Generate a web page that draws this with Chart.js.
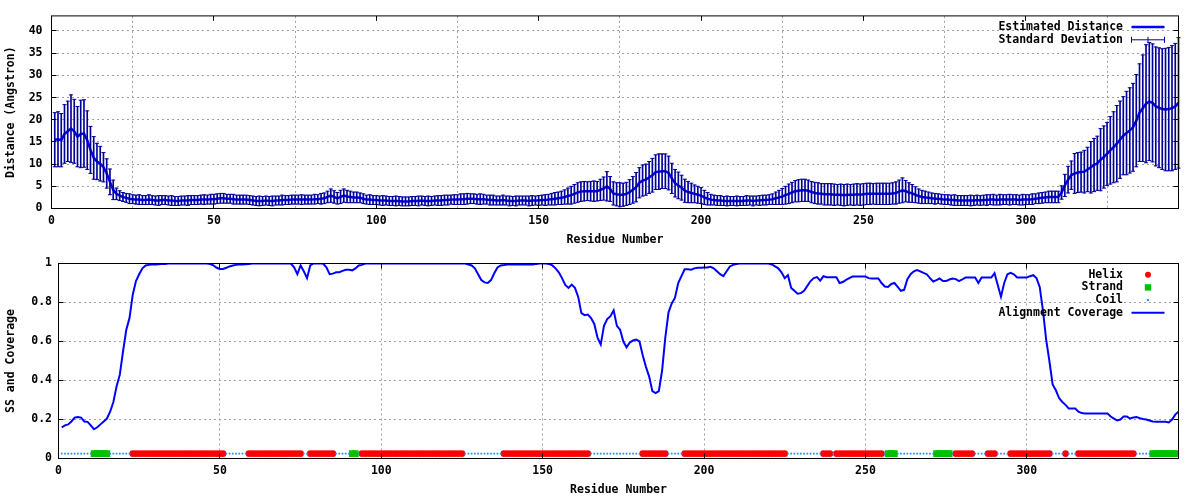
<!DOCTYPE html>
<html>
<head>
<meta charset="utf-8">
<title>Estimated distance and SS coverage</title>
<script src="https://cdn.jsdelivr.net/npm/chart.js@4.4.1/dist/chart.umd.min.js"></script>
<style>
  body { margin: 0; background: #fff; }
  canvas { display: block; }
</style>
</head>
<body>
<canvas id="distChart" width="1200" height="250"></canvas>
<canvas id="ssChart" width="1200" height="250"></canvas>
<script>
// residue 1..347, one value per residue
var distMean = [
  15.5, 15.6, 15.4, 16.8, 17.4, 18.0, 17.4, 16.2, 16.8, 16.9,
  15.4, 13.2, 11.4, 10.6, 10.1, 9.3, 7.9, 6.0, 4.2, 3.3,
  2.9, 2.6, 2.4, 2.2, 2.1, 2.0, 2.0, 1.9, 1.9, 2.0,
  1.9, 1.8, 1.8, 1.9, 1.9, 1.8, 1.8, 1.7, 1.7, 1.8,
  1.8, 1.8, 1.9, 1.9, 1.9, 2.0, 2.0, 2.0, 2.1, 2.1,
  2.2, 2.3, 2.3, 2.2, 2.2, 2.1, 2.0, 2.0, 2.0, 2.0,
  1.9, 1.8, 1.7, 1.7, 1.7, 1.8, 1.7, 1.7, 1.8, 1.8,
  1.9, 1.9, 1.9, 2.0, 2.0, 2.0, 2.0, 2.0, 2.0, 2.0,
  2.1, 2.1, 2.2, 2.3, 2.6, 2.9, 2.6, 2.3, 2.6, 2.9,
  2.7, 2.6, 2.5, 2.5, 2.4, 2.2, 2.0, 2.0, 1.9, 1.9,
  1.8, 1.8, 1.8, 1.7, 1.7, 1.7, 1.7, 1.6, 1.6, 1.6,
  1.7, 1.7, 1.7, 1.8, 1.7, 1.7, 1.7, 1.8, 1.8, 1.8,
  1.9, 1.9, 2.0, 2.0, 2.0, 2.1, 2.1, 2.2, 2.2, 2.2,
  2.1, 2.1, 2.1, 2.0, 1.9, 1.9, 1.8, 1.8, 1.9, 1.8,
  1.7, 1.7, 1.7, 1.8, 1.8, 1.8, 1.7, 1.8, 1.8, 1.8,
  1.9, 1.9, 2.0, 2.1, 2.2, 2.3, 2.4, 2.6, 2.8, 3.0,
  3.3, 3.6, 3.8, 3.9, 3.9, 3.9, 3.9, 3.9, 4.2, 4.5,
  5.0, 4.4, 3.4, 3.2, 3.1, 3.1, 3.3, 3.7, 4.2, 4.8,
  5.8, 6.3, 6.5, 7.0, 7.5, 8.2, 8.3, 8.4, 8.4, 8.0,
  6.8, 5.7, 5.2, 4.7, 4.0, 3.7, 3.5, 3.3, 3.1, 2.9,
  2.5, 2.2, 2.0, 1.9, 1.8, 1.8, 1.7, 1.7, 1.7, 1.7,
  1.7, 1.7, 1.7, 1.8, 1.8, 1.7, 1.8, 1.8, 1.9, 1.9,
  2.0, 2.1, 2.3, 2.5, 2.7, 3.0, 3.3, 3.6, 3.9, 4.0,
  4.1, 4.1, 4.0, 3.7, 3.5, 3.4, 3.3, 3.2, 3.2, 3.2,
  3.1, 3.1, 3.1, 3.0, 3.1, 3.1, 3.1, 3.2, 3.1, 3.2,
  3.3, 3.3, 3.3, 3.3, 3.3, 3.3, 3.3, 3.3, 3.4, 3.5,
  3.8, 4.1, 3.9, 3.6, 3.4, 3.1, 2.8, 2.6, 2.5, 2.4,
  2.3, 2.2, 2.2, 2.1, 2.0, 2.0, 1.9, 1.9, 1.8, 1.8,
  1.8, 1.8, 1.8, 1.8, 1.9, 1.8, 1.9, 1.9, 2.0, 2.0,
  1.9, 2.0, 2.0, 2.0, 2.0, 2.0, 2.0, 1.9, 2.0, 2.0,
  2.0, 2.1, 2.2, 2.3, 2.4, 2.5, 2.6, 2.6, 2.6, 2.6,
  3.6, 5.2, 6.5, 7.5, 7.9, 8.1, 8.2, 8.3, 8.8, 9.3,
  9.8, 10.2, 11.0, 11.6, 12.3, 13.1, 13.8, 14.6, 15.5, 16.4,
  17.0, 17.6, 18.3, 19.8, 21.6, 22.6, 23.6, 24.1, 23.8, 23.0,
  22.7, 22.4, 22.3, 22.4, 22.6, 23.0, 23.8
];

var distStd = [
  6.1, 6.2, 6.0, 6.6, 6.8, 7.6, 7.2, 6.8, 7.6, 7.6,
  6.6, 5.3, 4.8, 4.1, 3.9, 3.3, 3.3, 2.9, 2.2, 1.3,
  1.1, 1.0, 1.0, 1.1, 1.0, 1.0, 1.1, 1.0, 1.0, 1.1,
  1.0, 1.0, 1.1, 1.0, 1.0, 1.0, 1.1, 1.0, 1.0, 1.0,
  1.0, 1.1, 1.0, 1.0, 1.0, 1.0, 1.1, 1.0, 1.1, 1.1,
  1.1, 1.1, 1.1, 1.0, 1.0, 1.1, 1.0, 1.0, 1.0, 1.0,
  1.0, 1.0, 1.0, 1.1, 1.0, 1.0, 1.0, 1.1, 1.0, 1.0,
  1.1, 1.0, 1.0, 1.0, 1.0, 1.0, 1.1, 1.0, 1.0, 1.0,
  1.1, 1.0, 1.2, 1.2, 1.3, 1.5, 1.4, 1.3, 1.5, 1.5,
  1.4, 1.3, 1.2, 1.2, 1.1, 1.1, 1.0, 1.1, 1.0, 1.0,
  1.0, 1.1, 1.0, 1.0, 1.0, 1.1, 1.0, 1.0, 1.0, 1.0,
  1.0, 1.0, 1.1, 1.0, 1.0, 1.1, 1.0, 1.0, 1.1, 1.1,
  1.1, 1.1, 1.0, 1.1, 1.1, 1.2, 1.2, 1.2, 1.1, 1.1,
  1.1, 1.2, 1.1, 1.0, 1.1, 1.1, 1.0, 1.0, 1.1, 1.0,
  1.1, 1.0, 1.1, 1.0, 1.0, 1.0, 1.1, 1.1, 1.0, 1.1,
  1.1, 1.2, 1.2, 1.3, 1.4, 1.4, 1.5, 1.6, 1.8, 2.0,
  2.1, 2.2, 2.2, 2.2, 2.1, 2.2, 2.3, 2.2, 2.4, 2.6,
  3.3, 2.8, 2.6, 2.6, 2.7, 2.6, 2.6, 2.8, 3.0, 3.3,
  3.4, 3.5, 3.5, 3.6, 3.8, 3.9, 4.0, 3.9, 3.9, 3.8,
  3.4, 3.1, 3.0, 2.8, 2.6, 2.4, 2.2, 2.0, 1.9, 1.8,
  1.6, 1.4, 1.2, 1.1, 1.1, 1.1, 1.0, 1.1, 1.0, 1.0,
  1.1, 1.0, 1.0, 1.1, 1.0, 1.1, 1.0, 1.1, 1.1, 1.1,
  1.1, 1.2, 1.4, 1.6, 1.8, 2.0, 2.2, 2.3, 2.4, 2.5,
  2.5, 2.5, 2.4, 2.4, 2.4, 2.4, 2.3, 2.4, 2.4, 2.4,
  2.4, 2.3, 2.4, 2.4, 2.4, 2.3, 2.4, 2.4, 2.4, 2.4,
  2.4, 2.4, 2.3, 2.4, 2.4, 2.4, 2.4, 2.4, 2.4, 2.5,
  2.6, 2.8, 2.4, 2.2, 2.0, 1.8, 1.6, 1.5, 1.4, 1.3,
  1.2, 1.2, 1.1, 1.1, 1.1, 1.1, 1.1, 1.2, 1.1, 1.1,
  1.1, 1.1, 1.2, 1.1, 1.1, 1.1, 1.1, 1.2, 1.1, 1.2,
  1.1, 1.2, 1.1, 1.1, 1.2, 1.1, 1.1, 1.1, 1.2, 1.1,
  1.1, 1.2, 1.1, 1.2, 1.2, 1.2, 1.3, 1.3, 1.3, 1.3,
  1.5, 2.5, 3.0, 3.2, 4.5, 4.5, 4.5, 4.8, 5.0, 5.8,
  6.0, 6.1, 7.0, 7.0, 7.1, 7.6, 8.0, 8.6, 8.7, 8.8,
  9.4, 9.6, 9.9, 10.4, 11.0, 12.0, 13.3, 13.3, 13.3, 13.4,
  13.5, 13.6, 13.8, 13.9, 14.1, 14.2, 14.7
];

var coverage = [
  0.16, 0.17, 0.175, 0.19, 0.21, 0.213, 0.21, 0.19, 0.188, 0.17,
  0.15, 0.16, 0.175, 0.19, 0.205, 0.24, 0.29, 0.37, 0.43, 0.55,
  0.66, 0.72, 0.84, 0.91, 0.945, 0.975, 0.99, 0.993, 0.995, 0.995,
  0.996, 0.997, 0.998, 1, 1, 1, 1, 1, 1, 1,
  1, 1, 1, 1, 1, 1, 0.997, 0.99, 0.978, 0.972,
  0.972, 0.978, 0.985, 0.99, 0.993, 0.995, 0.995, 0.996, 0.997, 1,
  1, 1, 1, 1, 1, 1, 1, 1, 1, 1,
  1, 1, 0.98, 0.945, 0.99, 0.96, 0.925, 0.99, 1, 1,
  1, 1, 0.98, 0.945, 0.948, 0.955, 0.955, 0.962, 0.968, 0.968,
  0.965, 0.975, 0.99, 0.993, 1, 1, 1, 1, 1, 1,
  1, 1, 1, 1, 1, 1, 1, 1, 1, 1,
  1, 1, 1, 1, 1, 1, 1, 1, 1, 1,
  1, 1, 1, 1, 1, 1, 0.995, 0.99, 0.975, 0.945,
  0.915, 0.903, 0.9, 0.915, 0.95, 0.98, 0.99, 0.992, 0.995, 0.995,
  0.995, 0.995, 0.995, 0.995, 0.995, 0.995, 0.995, 0.998, 1, 1,
  1, 0.998, 0.99, 0.975, 0.955, 0.925, 0.89, 0.875, 0.892, 0.875,
  0.83, 0.745, 0.735, 0.738, 0.72, 0.69, 0.62, 0.585, 0.68, 0.715,
  0.73, 0.76, 0.68, 0.66, 0.6, 0.57, 0.595, 0.605, 0.61, 0.6,
  0.53, 0.47, 0.42, 0.345, 0.335, 0.345, 0.45, 0.62, 0.75, 0.795,
  0.825, 0.9, 0.935, 0.97, 0.97, 0.968, 0.975, 0.978, 0.978, 0.98,
  0.98, 0.983, 0.975, 0.96, 0.945, 0.935, 0.96, 0.985, 0.993, 0.997,
  1, 1, 1, 1, 1, 1, 1, 1, 1, 1,
  0.995, 0.985, 0.975, 0.955, 0.925, 0.94, 0.875, 0.86, 0.845, 0.848,
  0.86, 0.885, 0.91, 0.925, 0.93, 0.912, 0.935, 0.93, 0.93, 0.93,
  0.93, 0.9, 0.905, 0.916, 0.925, 0.933, 0.933, 0.933, 0.933, 0.933,
  0.925, 0.923, 0.923, 0.923, 0.9, 0.882, 0.88, 0.895, 0.9, 0.88,
  0.86, 0.865, 0.92, 0.945, 0.96, 0.966, 0.96, 0.952, 0.945, 0.925,
  0.908, 0.915, 0.923, 0.91, 0.91, 0.918, 0.923, 0.92, 0.91, 0.918,
  0.928, 0.928, 0.928, 0.928, 0.9, 0.928, 0.928, 0.928, 0.928, 0.95,
  0.89, 0.83, 0.9, 0.945, 0.952, 0.945, 0.928, 0.928, 0.928, 0.928,
  0.935, 0.94, 0.925, 0.88, 0.76, 0.61, 0.5, 0.38, 0.35, 0.31,
  0.29, 0.275, 0.256, 0.256, 0.256, 0.24, 0.233, 0.231, 0.231, 0.231,
  0.231, 0.231, 0.231, 0.231, 0.231, 0.215, 0.205, 0.195, 0.2, 0.215,
  0.215, 0.205, 0.21, 0.213, 0.207, 0.203, 0.2, 0.195, 0.19, 0.188,
  0.188, 0.188, 0.188, 0.185, 0.2, 0.225, 0.24
];

// secondary structure, [first, last] residue of each segment
var helixSegments = [[23, 51], [59, 75], [78, 85], [94, 125], [138, 164], [181, 188],
  [194, 225], [237, 239], [241, 255], [278, 283], [288, 290], [295, 307], [312, 312], [316, 333]];
var strandSegments = [[11, 15], [91, 92], [257, 259], [272, 276], [339, 346]];
var ssLevel = 0.025;

var xTicks = [0, 50, 100, 150, 200, 250, 300];
var distTicks = [0, 5, 10, 15, 20, 25, 30, 35, 40];
var covTicks = [0, 0.2, 0.4, 0.6, 0.8, 1];

var FONT = {family: "'DejaVu Sans Mono', monospace", size: 11.5, weight: 'bold'};
var FONT_CSS = "bold 11.5px 'DejaVu Sans Mono', monospace";
var NAVY = '#000099';
var COIL = '#1e8cff';

var residues = distMean.map(function(_, i) { return i + 1; });

function inSegments(r, segs) {
  return segs.some(function(s) { return r >= s[0] && r <= s[1]; });
}

var helixPts = [], strandPts = [], coilPts = [];
residues.forEach(function(r) {
  if (inSegments(r, strandSegments)) strandPts.push({x: r, y: ssLevel});
  else if (inSegments(r, helixSegments)) helixPts.push({x: r, y: ssLevel});
  else coilPts.push({x: r, y: ssLevel});
});

// gnuplot style frame with inward ticks on all four sides
var gnuFrame = {
  id: 'gnuFrame',
  afterDatasetsDraw: function(chart) {
    var ctx = chart.ctx, a = chart.chartArea;
    var xs = chart.scales.x, ys = chart.scales.y;
    ctx.save();
    ctx.strokeStyle = '#000';
    ctx.lineWidth = 1;
    ctx.beginPath();
    xs.ticks.forEach(function(t) {
      var px = Math.round(xs.getPixelForValue(t.value) - 0.5) + 0.5;
      ctx.moveTo(px, a.bottom); ctx.lineTo(px, a.bottom - 5);
      ctx.moveTo(px, a.top); ctx.lineTo(px, a.top + 5);
    });
    ys.ticks.forEach(function(t) {
      var py = Math.round(ys.getPixelForValue(t.value) - 0.5) + 0.5;
      ctx.moveTo(a.left, py); ctx.lineTo(a.left + 5, py);
      ctx.moveTo(a.right, py); ctx.lineTo(a.right - 5, py);
    });
    ctx.stroke();
    ctx.strokeRect(a.left, a.top, a.right - a.left, a.bottom - a.top);
    ctx.restore();
  }
};

// key in the top right corner, text first and sample on its right
var gnuKey = {
  id: 'gnuKey',
  afterDraw: function(chart, args, opts) {
    var ctx = chart.ctx, a = chart.chartArea;
    var x0 = a.right - 47, x1 = a.right - 14, xm = (x0 + x1) / 2;
    ctx.save();
    ctx.font = FONT_CSS;
    ctx.textAlign = 'right';
    ctx.textBaseline = 'middle';
    opts.items.forEach(function(it, i) {
      var y = a.top + 11.2 + i * 12.7;
      ctx.fillStyle = '#000';
      ctx.fillText(it.text, a.right - 55.5, y);
      ctx.strokeStyle = it.color;
      ctx.fillStyle = it.color;
      if (it.kind === 'line') {
        ctx.lineWidth = it.width;
        ctx.beginPath(); ctx.moveTo(x0, y); ctx.lineTo(x1, y); ctx.stroke();
      } else if (it.kind === 'errorbar') {
        ctx.lineWidth = 1;
        ctx.beginPath();
        ctx.moveTo(x0, y); ctx.lineTo(x1, y);
        ctx.moveTo(x0, y - 3); ctx.lineTo(x0, y + 3);
        ctx.moveTo(x1, y - 3); ctx.lineTo(x1, y + 3);
        ctx.moveTo(xm, y - 3); ctx.lineTo(xm, y + 3);
        ctx.stroke();
      } else if (it.kind === 'circle') {
        ctx.beginPath(); ctx.arc(xm, y, it.r, 0, Math.PI * 2); ctx.fill();
      } else if (it.kind === 'square') {
        ctx.fillRect(xm - it.r, y - it.r, it.r * 2, it.r * 2);
      } else {
        ctx.fillRect(xm - 1, y - 1, 2, 2);
      }
    });
    ctx.restore();
  }
};

function xScale() {
  return {
    type: 'linear', min: 0, max: 347, offset: false,
    afterBuildTicks: function(s) { s.ticks = xTicks.map(function(v) { return {value: v}; }); },
    afterFit: function(s) { s.height = 41.5; },
    grid: {color: '#a0a0a0', drawTicks: false},
    border: {display: false, dash: [2, 3]},
    ticks: {color: '#000', font: FONT, padding: 6, maxRotation: 0, autoSkip: false},
    title: {display: true, text: 'Residue Number', color: '#000', font: FONT, padding: {top: 0, bottom: 2.8}}
  };
}

function yScale(max, ticks, width, pad, label) {
  return {
    type: 'linear', min: 0, max: max,
    afterBuildTicks: function(s) { s.ticks = ticks.map(function(v) { return {value: v}; }); },
    afterFit: function(s) { s.width = width; },
    grid: {color: '#a0a0a0', drawTicks: false},
    border: {display: false, dash: [2, 3]},
    ticks: {
      color: '#000', font: FONT, padding: pad,
      callback: function(v) { return String(Number(v.toFixed(2))); }
    },
    title: {display: true, text: label, color: '#000', font: FONT, padding: {top: 4, bottom: 0}}
  };
}

new Chart('distChart', {
  type: 'line',
  data: {
    datasets: [
      {
        type: 'scatter', label: 'upper',
        data: residues.map(function(r, i) { return {x: r, y: distMean[i] + distStd[i]}; }),
        pointStyle: 'line', pointRadius: 2, pointBorderColor: NAVY, pointBorderWidth: 1, clip: false
      },
      {
        type: 'scatter', label: 'lower',
        data: residues.map(function(r, i) { return {x: r, y: distMean[i] - distStd[i]}; }),
        pointStyle: 'line', pointRadius: 2, pointBorderColor: NAVY, pointBorderWidth: 1, clip: false
      },
      {
        type: 'bar', label: 'Standard Deviation',
        data: residues.map(function(r, i) {
          return {x: r, y: [distMean[i] - distStd[i], distMean[i] + distStd[i]]};
        }),
        backgroundColor: NAVY, borderWidth: 0, barThickness: 1, clip: false
      },
      {
        type: 'line', label: 'Estimated Distance',
        data: residues.map(function(r, i) { return {x: r, y: distMean[i]}; }),
        borderColor: '#0000ff', borderWidth: 2.5, pointRadius: 0, tension: 0, fill: false
      }
    ]
  },
  options: {
    responsive: false, animation: false, events: [],
    layout: {padding: {top: 14.5, right: 21.5, bottom: 0, left: 0}},
    plugins: {
      legend: {display: false},
      tooltip: {enabled: false},
      gnuKey: {items: [
        {text: 'Estimated Distance', kind: 'line', color: '#0000ff', width: 2.5},
        {text: 'Standard Deviation', kind: 'errorbar', color: NAVY}
      ]}
    },
    scales: {
      x: xScale(),
      y: yScale(43.4, distTicks, 51.5, 9, 'Distance (Angstron)')
    }
  },
  plugins: [gnuFrame, gnuKey]
});

new Chart('ssChart', {
  type: 'line',
  data: {
    datasets: [
      {
        type: 'line', label: 'Alignment Coverage',
        data: residues.map(function(r, i) { return {x: r, y: coverage[i]}; }),
        borderColor: '#0000ff', borderWidth: 2, pointRadius: 0, tension: 0, fill: false
      },
      {
        type: 'scatter', label: 'Coil', data: coilPts,
        pointStyle: 'rect', pointRadius: 1.2, pointBorderWidth: 0, pointBackgroundColor: COIL
      },
      {
        type: 'scatter', label: 'Strand', data: strandPts,
        pointStyle: 'rect', pointRadius: 4.6, pointBorderWidth: 0, pointBackgroundColor: '#00c000'
      },
      {
        type: 'scatter', label: 'Helix', data: helixPts,
        pointStyle: 'circle', pointRadius: 3.3, pointBorderWidth: 0, pointBackgroundColor: '#ff0000'
      }
    ]
  },
  options: {
    responsive: false, animation: false, events: [],
    layout: {padding: {top: 13.5, right: 21.5, bottom: 0, left: 0}},
    plugins: {
      legend: {display: false},
      tooltip: {enabled: false},
      gnuKey: {items: [
        {text: 'Helix', kind: 'circle', color: '#ff0000', r: 3},
        {text: 'Strand', kind: 'square', color: '#00c000', r: 3.2},
        {text: 'Coil', kind: 'dot', color: COIL},
        {text: 'Alignment Coverage', kind: 'line', color: '#0000ff', width: 2}
      ]}
    },
    scales: {
      x: xScale(),
      y: yScale(1, covTicks, 58.5, 6.5, 'SS and Coverage')
    }
  },
  plugins: [gnuFrame, gnuKey]
});
</script>
</body>
</html>
